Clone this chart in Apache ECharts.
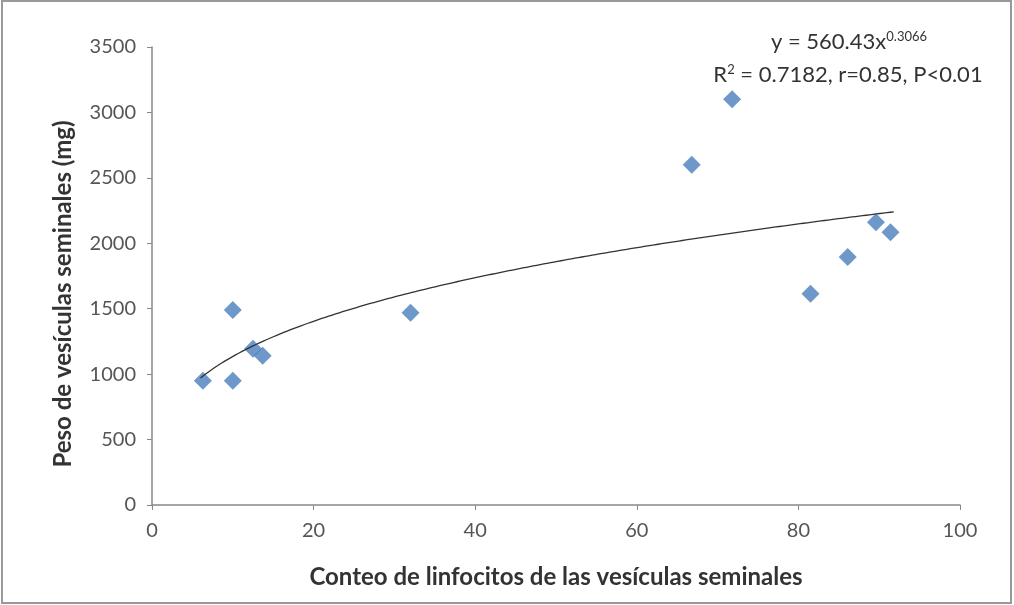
<!DOCTYPE html>
<html>
<head>
<meta charset="utf-8">
<script src="https://cdn.jsdelivr.net/npm/echarts@6/dist/echarts.min.js"></script>
<style>
  html, body { margin: 0; padding: 0; background: #fff; }
  #chart { width: 1014px; height: 605px; }
</style>
</head>
<body>
<div id="chart"></div>
<script>
// Lymphocyte count vs seminal vesicle weight
const lymphocyteCount = [6.3, 10.0, 10.0, 12.5, 13.7, 32.0, 66.8, 71.8, 81.5, 86.1, 89.6, 91.4];
const vesicleWeight   = [950, 950, 1490, 1195, 1140, 1470, 2600, 3100, 1615, 1895, 2160, 2085];

// Power trend line y = a * x^b, coefficients as printed on the chart
const trendA = 560.43;
const trendB = 0.3066;
const trendRange = [6.0, 91.8];

const xTicks = [0, 20, 40, 60, 80, 100];
const yTicks = [0, 500, 1000, 1500, 2000, 2500, 3000, 3500];

const xTitle = 'Conteo de linfocitos de las vesículas seminales';
const yTitle = 'Peso de vesículas seminales (mg)';

const scatterData = lymphocyteCount.map((x, i) => [x, vesicleWeight[i]]);
const trendData = [];
for (let k = 0; k <= 200; k++) {
  const x = trendRange[0] + (trendRange[1] - trendRange[0]) * k / 200;
  trendData.push([x, trendA * Math.pow(x, trendB)]);
}

const FONT = 'Lato, "Open Sans", sans-serif';
const chart = echarts.init(document.getElementById('chart'), null, { renderer: 'canvas' });
chart.setOption({
  animation: false,
  backgroundColor: '#ffffff',
  grid: { left: 152, right: 54, top: 47, bottom: 100, containLabel: false },
  xAxis: {
    type: 'value',
    min: xTicks[0], max: xTicks[xTicks.length - 1], interval: 20,
    name: xTitle,
    nameLocation: 'middle', nameGap: 60,
    nameTextStyle: { fontFamily: FONT, fontSize: 24, fontWeight: 'bold', color: '#333' },
    axisLine: { lineStyle: { color: '#888', width: 1.5 } },
    axisTick: { show: true, length: 5, lineStyle: { color: '#888' } },
    axisLabel: { fontFamily: FONT, fontSize: 20, color: '#555', margin: 16 },
    splitLine: { show: false }
  },
  yAxis: {
    type: 'value',
    min: yTicks[0], max: yTicks[yTicks.length - 1], interval: 500,
    axisLine: { show: true, lineStyle: { color: '#888', width: 1.5 } },
    axisTick: { show: true, length: 5, lineStyle: { color: '#888' } },
    axisLabel: { fontFamily: FONT, fontSize: 20, color: '#555', margin: 16, formatter: v => String(v) },
    splitLine: { show: false }
  },
  graphic: [
    {
      type: 'rect', silent: true, z: -1,
      shape: { x: 2, y: 1, width: 1009, height: 602 },
      style: { fill: 'none', stroke: '#999', lineWidth: 2 }
    },
    {
      // vertical axis title, rotated to read bottom-to-top
      type: 'text', x: 63, y: 294, rotation: Math.PI / 2,
      style: {
        text: yTitle, align: 'center', verticalAlign: 'middle',
        fontFamily: FONT, fontSize: 24, fontWeight: 'bold', fill: '#333'
      }
    },
    {
      type: 'text', x: 849, y: 30,
      style: {
        text: '{m|y = 560.43x}{s|0.3066}',
        align: 'center',
        rich: {
          m: { fontFamily: FONT, fontSize: 22, fill: '#333' },
          s: { fontFamily: FONT, fontSize: 13, fill: '#333', verticalAlign: 'top', padding: [0, 0, 10, 0] }
        }
      }
    },
    {
      type: 'text', x: 848, y: 63,
      style: {
        text: '{m|R}{s|2}{m| = 0.7182, r=0.85, P<0.01}',
        align: 'center',
        rich: {
          m: { fontFamily: FONT, fontSize: 22, fill: '#333' },
          s: { fontFamily: FONT, fontSize: 13, fill: '#333', verticalAlign: 'top', padding: [0, 0, 10, 0] }
        }
      }
    }
  ],
  series: [
    {
      type: 'line',
      data: trendData,
      showSymbol: false,
      smooth: false,
      lineStyle: { color: '#333', width: 1.3 },
      z: 3
    },
    {
      type: 'scatter',
      data: scatterData,
      symbol: 'diamond',
      symbolSize: [18, 18],
      itemStyle: { color: '#4A7EBB' },
      z: 2
    }
  ]
});
</script>
</body>
</html>
